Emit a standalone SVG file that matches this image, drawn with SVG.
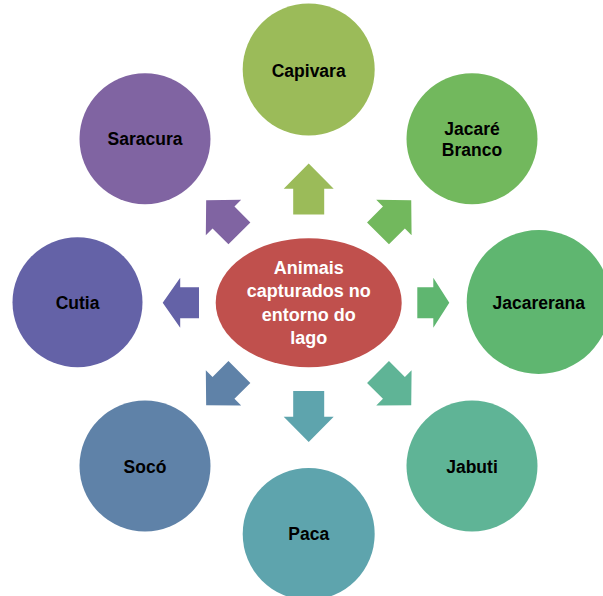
<svg xmlns="http://www.w3.org/2000/svg" width="603" height="596" viewBox="0 0 603 596">
<style>
.lbl{font-family:"Liberation Sans",Arial,sans-serif;font-weight:bold;font-size:17.5px;fill:#000;text-anchor:middle}
.ctr{font-family:"Liberation Sans",Arial,sans-serif;font-weight:bold;font-size:18px;fill:#fff;text-anchor:middle}
</style>
<rect width="603" height="596" fill="#fff"/>
<g id="connectors">
<polygon fill="#9bbb59" transform="translate(308.7,302.7) rotate(-90)" points="88.2,-15.5 114,-15.5 114,-25 139.3,0 114,25 114,15.5 88.2,15.5"/>
<polygon fill="#72b85d" transform="translate(308.7,302.7) rotate(-45)" points="98,-15.5 120.5,-15.5 120.5,-25 145,0 120.5,25 120.5,15.5 98,15.5"/>
<polygon fill="#5fb670" transform="translate(308.7,302.7)" points="108.6,-15.5 124.6,-15.5 124.6,-25 140.6,0 124.6,25 124.6,15.5 108.6,15.5"/>
<polygon fill="#5fb496" transform="translate(308.7,302.7) rotate(45)" points="98,-15.5 120.5,-15.5 120.5,-25 145,0 120.5,25 120.5,15.5 98,15.5"/>
<polygon fill="#5ea4ad" transform="translate(308.7,302.7) rotate(90)" points="88.2,-15.5 114,-15.5 114,-25 139.3,0 114,25 114,15.5 88.2,15.5"/>
<polygon fill="#5f82a8" transform="translate(308.7,302.7) rotate(135)" points="98,-15.5 120.5,-15.5 120.5,-25 145,0 120.5,25 120.5,15.5 98,15.5"/>
<polygon fill="#6462a7" transform="translate(308.7,302.7) rotate(180)" points="109.7,-15.5 128.5,-15.5 128.5,-25 146,0 128.5,25 128.5,15.5 109.7,15.5"/>
<polygon fill="#8064a2" transform="translate(308.7,302.7) rotate(-135)" points="98,-15.5 120.5,-15.5 120.5,-25 145,0 120.5,25 120.5,15.5 98,15.5"/>
</g>
<g id="center">
<ellipse cx="308.7" cy="302.7" rx="93" ry="64.5" fill="#c0504d"/>
<text class="ctr" x="308.7" y="273.5">Animais</text>
<text class="ctr" x="308.7" y="297">capturados no</text>
<text class="ctr" x="308.7" y="320.5">entorno do</text>
<text class="ctr" x="308.7" y="344">lago</text>
</g>
<g id="capivara">
<circle cx="308.7" cy="69.5" r="66" fill="#9bbb59"/>
<text class="lbl" x="308.7" y="77">Capivara</text>
</g>
<g id="jacare-branco">
<circle cx="472" cy="138.8" r="65.5" fill="#72b85d"/>
<text class="lbl" x="472" y="134.5">Jacaré</text>
<text class="lbl" x="472" y="156">Branco</text>
</g>
<g id="jacarerana">
<circle cx="538.7" cy="302" r="72" fill="#5fb670"/>
<text class="lbl" x="538.7" y="309">Jacarerana</text>
</g>
<g id="jabuti">
<circle cx="472" cy="466" r="65.5" fill="#5fb496"/>
<text class="lbl" x="472" y="473">Jabuti</text>
</g>
<g id="paca">
<circle cx="308.7" cy="534" r="66" fill="#5ea4ad"/>
<text class="lbl" x="308.7" y="539.5">Paca</text>
</g>
<g id="soco">
<circle cx="145" cy="466" r="65.5" fill="#5f82a8"/>
<text class="lbl" x="145" y="473">Socó</text>
</g>
<g id="cutia">
<circle cx="77.5" cy="302.3" r="65" fill="#6462a7"/>
<text class="lbl" x="77.5" y="309">Cutia</text>
</g>
<g id="saracura">
<circle cx="145" cy="138.8" r="65.5" fill="#8064a2"/>
<text class="lbl" x="145" y="145">Saracura</text>
</g>
</svg>
